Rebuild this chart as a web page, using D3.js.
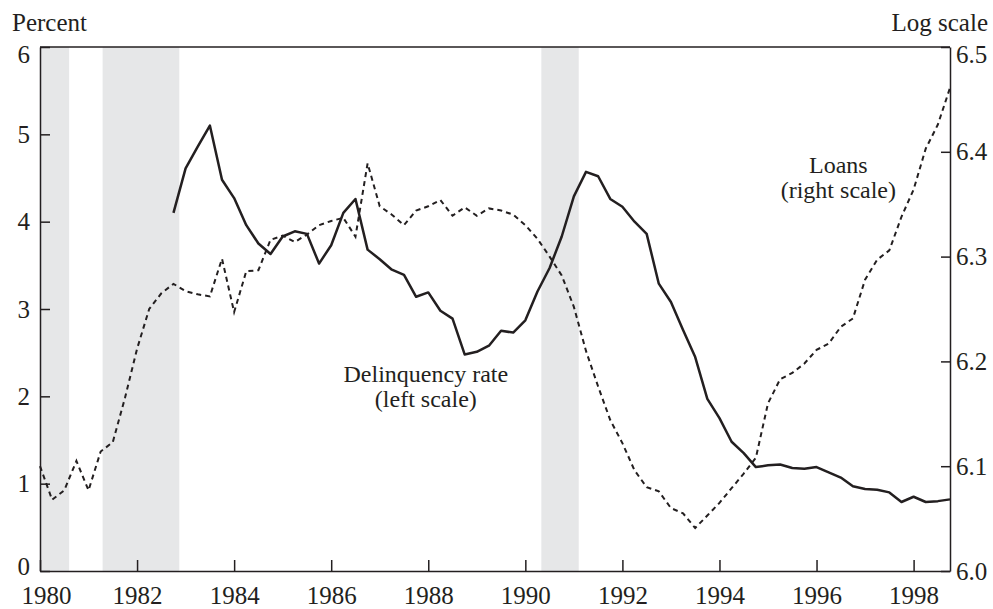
<!DOCTYPE html>
<html lang="en">
<head>
  <meta charset="UTF-8">
  <title>Delinquency rate and loans</title>
  <style>
    body, html {
      margin: 0;
      padding: 0;
      background: #fff;
    }
    text {
      font-family: "Liberation Serif", "Times New Roman", serif;
      fill: #231f20;
    }
  </style>
</head>
<body>
  <svg id="svg" width="993" height="609"></svg>
  <script src="https://d3js.org/d3.v7.min.js"></script>
  <script>
    // quarterly delinquency rate, percent (left scale), from 1982:Q4
    const delinquencyRate = [
      4.10,
      4.61, 4.86, 5.10, 4.48,
      4.27, 3.96, 3.75, 3.63,
      3.83, 3.89, 3.86, 3.52,
      3.73, 4.10, 4.26, 3.68,
      3.57, 3.45, 3.39, 3.14,
      3.19, 2.98, 2.89, 2.48,
      2.51, 2.58, 2.75, 2.73,
      2.87, 3.20, 3.47, 3.83,
      4.29, 4.57, 4.52, 4.26,
      4.17, 4.00, 3.86, 3.29,
      3.08, 2.76, 2.45, 1.97,
      1.75, 1.48, 1.35, 1.19,
      1.21, 1.22, 1.18, 1.17,
      1.19, 1.13, 1.07, 0.97,
      0.94, 0.93, 0.90, 0.79,
      0.85, 0.79, 0.80, 0.82
    ]

    // quarterly loans, log (right scale), from 1980:Q1
    const loansLog = [
      6.100, 6.068, 6.077, 6.105,
      6.077, 6.114, 6.123, 6.165,
      6.212, 6.250, 6.265, 6.274,
      6.267, 6.264, 6.262, 6.298,
      6.247, 6.286, 6.287, 6.316,
      6.320, 6.314, 6.321, 6.330,
      6.334, 6.337, 6.319, 6.389,
      6.348, 6.340, 6.330, 6.344,
      6.348, 6.354, 6.339, 6.347,
      6.339, 6.346, 6.344, 6.340,
      6.330, 6.317, 6.300, 6.282,
      6.252, 6.210, 6.176, 6.144,
      6.122, 6.096, 6.080, 6.076,
      6.060, 6.055, 6.041, 6.053,
      6.065, 6.079, 6.093, 6.108,
      6.160, 6.183, 6.189, 6.198,
      6.211, 6.217, 6.233, 6.241,
      6.278, 6.297, 6.306, 6.338,
      6.364, 6.403, 6.426, 6.461
    ]

    const delinquencyDates = d3.range(1982.75, 1999, 0.25)
    const loanDates = d3.range(1980, 1999, 0.25)

    // recession periods (shaded)
    const recessions = [[1980.0, 1980.6], [1981.29, 1982.87], [1990.33, 1991.1]]

    const yearTicks = [1980, 1982, 1984, 1986, 1988, 1990, 1992, 1994, 1996, 1998]
    const leftTicks = [0, 1, 2, 3, 4, 5, 6]
    const rightTicks = [6.0, 6.1, 6.2, 6.3, 6.4, 6.5]

    const margin = { top: 47, right: 43, bottom: 38, left: 40 }
    const width = 993
    const height = 609
    const innerW = width - margin.left - margin.right
    const innerH = height - margin.top - margin.bottom
    const ink = '#231f20'

    const svg = d3.select('#svg')
    const g = svg.append('g')
      .attr('transform', `translate(${margin.left}, ${margin.top})`)

    const x = d3.scaleLinear().domain([1980, 1998.75]).range([0, innerW])
    const yLeft = d3.scaleLinear().domain([0, 6]).range([innerH, 0])
    const yRight = d3.scaleLinear().domain([6.0, 6.5]).range([innerH, 0])

    // recession shading
    g.selectAll('rect.rec')
      .data(recessions)
      .join('rect')
      .attr('class', 'rec')
      .attr('x', d => x(d[0]))
      .attr('width', d => x(d[1]) - x(d[0]))
      .attr('y', 0)
      .attr('height', innerH)
      .attr('fill', '#e6e7e8')

    // lines
    const loanLine = d3.line()
      .x((d, i) => x(loanDates[i]))
      .y(d => yRight(d))

    const delinqLine = d3.line()
      .x((d, i) => x(delinquencyDates[i]))
      .y(d => yLeft(d))

    g.append('path')
      .datum(loansLog)
      .attr('d', loanLine)
      .attr('fill', 'none')
      .attr('stroke', ink)
      .attr('stroke-width', 2)
      .attr('stroke-dasharray', '5,4')

    g.append('path')
      .datum(delinquencyRate)
      .attr('d', delinqLine)
      .attr('fill', 'none')
      .attr('stroke', ink)
      .attr('stroke-width', 2.5)
      .attr('stroke-linejoin', 'round')

    // frame (top line)
    g.append('line')
      .attr('x1', 0).attr('x2', innerW)
      .attr('y1', 0).attr('y2', 0)
      .attr('stroke', ink)
      .attr('stroke-width', 1.5)

    // axes
    const fontSize = 25

    const xAxis = g.append('g')
      .attr('transform', `translate(0, ${innerH})`)
      .call(d3.axisBottom(x).tickValues(yearTicks).tickFormat(d3.format('d'))
        .tickSizeInner(-11).tickSizeOuter(0).tickPadding(15))
    xAxis.selectAll('text')
      .attr('font-size', fontSize)
      .attr('dx', (d, i) => i === 0 ? 6 : 0)

    const leftAxis = g.append('g')
      .call(d3.axisLeft(yLeft).tickValues(leftTicks).tickFormat(d3.format('d'))
        .tickSizeInner(-10).tickSizeOuter(0).tickPadding(10))
    leftAxis.selectAll('text')
      .attr('font-size', fontSize)
      .attr('dy', d => d === 6 ? '0.6em' : d === 0 ? '0.15em' : '0.32em')

    const rightAxis = g.append('g')
      .attr('transform', `translate(${innerW}, 0)`)
      .call(d3.axisRight(yRight).tickValues(rightTicks).tickFormat(d3.format('.1f'))
        .tickSizeInner(-9).tickSizeOuter(0).tickPadding(6))
    rightAxis.selectAll('text')
      .attr('font-size', fontSize)
      .attr('dy', d => d === 6.5 ? '0.6em' : '0.32em')

    svg.selectAll('.domain, .tick line')
      .attr('stroke', ink)
      .attr('stroke-width', 1.5)
    svg.selectAll('.tick text')
      .attr('fill', ink)
      .attr('font-family', '"Liberation Serif", "Times New Roman", serif')

    // axis titles
    svg.append('text')
      .attr('x', 12).attr('y', 31)
      .attr('font-size', fontSize)
      .text('Percent')

    svg.append('text')
      .attr('x', 988).attr('y', 31)
      .attr('text-anchor', 'end')
      .attr('font-size', fontSize)
      .text('Log scale')

    // series labels
    const labels = [
      { lines: ['Delinquency rate', '(left scale)'], t: 1987.95, v: 2.16, scale: yLeft },
      { lines: ['Loans', '(right scale)'], t: 1996.45, v: 6.38, scale: yRight }
    ]
    labels.forEach(l => {
      const t = g.append('text')
        .attr('text-anchor', 'middle')
        .attr('font-size', 24)
        .attr('x', x(l.t))
        .attr('y', l.scale(l.v))
      l.lines.forEach((s, i) => {
        t.append('tspan')
          .attr('x', x(l.t))
          .attr('dy', i === 0 ? 0 : 25)
          .text(s)
      })
    })
  </script>
</body>
</html>
